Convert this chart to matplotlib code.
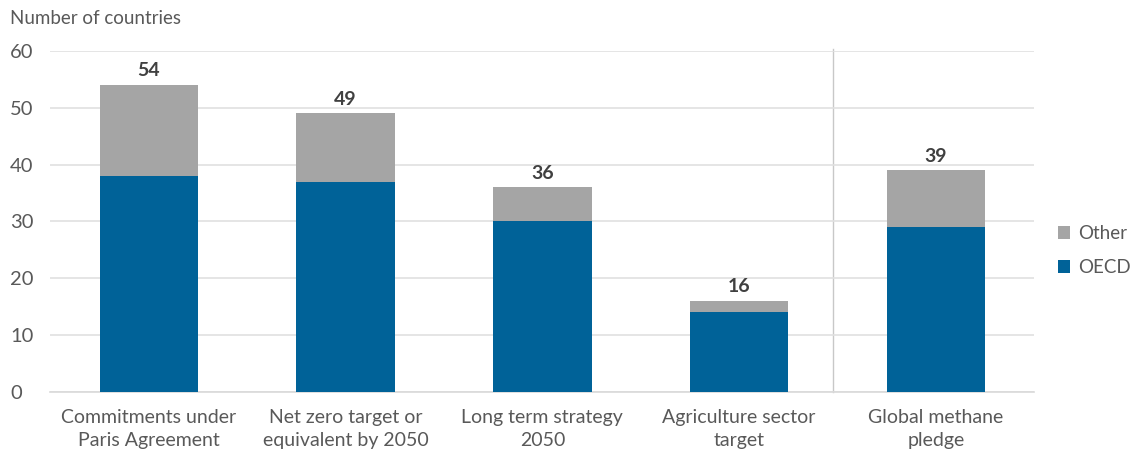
import matplotlib.pyplot as plt

# Dados
categorias = ['Commitments under\nParis Agreement', 'Net zero target or\nequivalent by 2050',
              'Long term strategy\n2050', 'Agriculture sector\ntarget', 'Global methane\npledge']
oecd = [38, 37, 30, 14, 29]
outros = [16, 12, 6, 2, 10]
totais = [o + t for o, t in zip(oecd, outros)]

cor_oecd = '#006298'
cor_outros = '#A5A5A5'
cor_texto = '#595959'

plt.rcParams['font.family'] = ['Lato', 'DejaVu Sans']

fig = plt.figure(figsize=(11.32, 4.55), dpi=100)
ax = fig.add_axes([0.0446, 0.1385, 0.869, 0.7495])

x = list(range(len(categorias)))
ax.bar(x, oecd, width=0.5, color=cor_oecd, label='OECD', zorder=3)
ax.bar(x, outros, width=0.5, bottom=oecd, color=cor_outros, label='Other', zorder=3)

for xi, t in zip(x, totais):
    ax.text(xi, t + 1.0, str(t), ha='center', va='bottom', fontsize=14,
            fontweight='bold', color='#404040')

ax.set_xlim(-0.5, len(categorias) - 0.5)
ax.set_ylim(0, 60)
ax.set_yticks(range(0, 61, 10))
ax.set_xticks(x)
ax.set_xticklabels(categorias, fontsize=14, color=cor_texto, linespacing=1.45)
ax.tick_params(axis='y', labelsize=14.5, colors=cor_texto, length=0, pad=29)
ax.tick_params(axis='x', length=0, pad=12)
for lbl in ax.get_yticklabels():
    lbl.set_horizontalalignment('left')

ax.grid(axis='y', color='#E0E0E0', linewidth=1.2, zorder=0)
for s in ['top', 'right', 'left']:
    ax.spines[s].set_visible(False)
ax.spines['bottom'].set_color('#D9D9D9')
ax.spines['bottom'].set_linewidth(1.2)

# linha separadora
ax.axvline(3.475, ymin=0, ymax=1.006, color='#C8C8C8', linewidth=1, clip_on=False, zorder=1)

fig.text(0.009, 0.96, 'Number of countries', fontsize=13.5, color=cor_texto, va='center')

handles, labels = ax.get_legend_handles_labels()
ax.legend(handles[::-1], labels[::-1], loc='center left', bbox_to_anchor=(1.024, 0.415),
          frameon=False, fontsize=13.5, labelcolor=cor_texto, handlelength=0.65,
          handleheight=0.65, handletextpad=0.45, labelspacing=0.9,
          borderpad=0, borderaxespad=0)

fig.savefig('out.png', dpi=100)
